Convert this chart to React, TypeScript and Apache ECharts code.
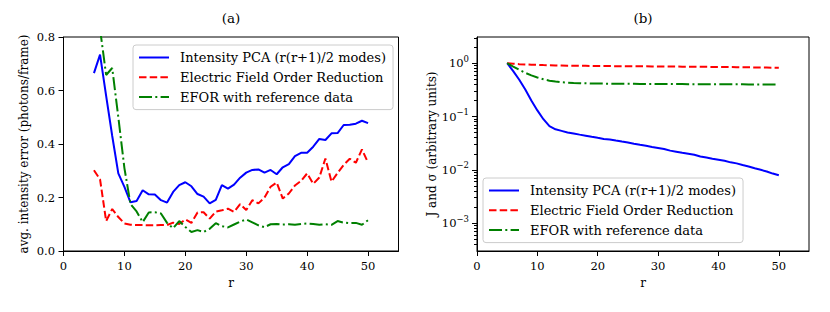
import React, { useEffect, useRef } from 'react';
import * as echarts from 'echarts';

// ---------- data ----------
const rValues = [5, 6, 7, 8, 9, 10, 11, 12, 13, 14, 15, 16, 17, 18, 19, 20, 21, 22, 23, 24, 25, 26, 27, 28, 29, 30, 31, 32, 33, 34, 35, 36, 37, 38, 39, 40, 41, 42, 43, 44, 45, 46, 47, 48, 49, 50];

// (a) avg. intensity error (photons/frame)
const pcaErr = [0.665, 0.734, 0.58, 0.43, 0.29, 0.24, 0.182, 0.187, 0.227, 0.212, 0.211, 0.19, 0.181, 0.221, 0.246, 0.257, 0.242, 0.213, 0.203, 0.178, 0.191, 0.246, 0.233, 0.248, 0.274, 0.293, 0.303, 0.305, 0.293, 0.303, 0.287, 0.313, 0.325, 0.355, 0.367, 0.367, 0.39, 0.419, 0.415, 0.44, 0.441, 0.471, 0.472, 0.476, 0.487, 0.478];
const eforErr = [0.302, 0.268, 0.112, 0.157, 0.127, 0.103, 0.098, 0.097, 0.097, 0.096, 0.096, 0.097, 0.097, 0.106, 0.101, 0.118, 0.105, 0.144, 0.145, 0.121, 0.147, 0.152, 0.158, 0.146, 0.175, 0.153, 0.19, 0.178, 0.2, 0.24, 0.256, 0.196, 0.215, 0.245, 0.262, 0.29, 0.251, 0.275, 0.346, 0.259, 0.292, 0.322, 0.345, 0.33, 0.38, 0.33];
const eforRefR = [6, 7, 8, 9, 10, 11, 12, 13, 14, 15, 16, 17, 18, 19, 20, 21, 22, 23, 24, 25, 26, 27, 28, 29, 30, 31, 32, 33, 34, 35, 36, 37, 38, 39, 40, 41, 42, 43, 44, 45, 46, 47, 48, 49, 50];
const eforRefErr = [0.83, 0.658, 0.684, 0.5, 0.31, 0.175, 0.148, 0.108, 0.144, 0.145, 0.14, 0.105, 0.085, 0.112, 0.09, 0.071, 0.078, 0.071, 0.083, 0.104, 0.093, 0.088, 0.099, 0.11, 0.118, 0.107, 0.096, 0.089, 0.1, 0.101, 0.099, 0.1, 0.098, 0.101, 0.103, 0.101, 0.098, 0.1, 0.098, 0.112, 0.106, 0.104, 0.105, 0.098, 0.115];

// (b) J and sigma (arbitrary units), log scale
const pcaJ = [1.0, 0.71, 0.49, 0.32, 0.2, 0.13, 0.089, 0.066, 0.0575, 0.0537, 0.0501, 0.0479, 0.0457, 0.0437, 0.0417, 0.0398, 0.038, 0.0372, 0.0355, 0.0339, 0.0324, 0.0309, 0.0295, 0.0282, 0.0269, 0.0257, 0.0245, 0.0229, 0.0219, 0.0209, 0.02, 0.0191, 0.0178, 0.017, 0.0162, 0.0155, 0.0148, 0.0138, 0.0132, 0.0123, 0.0115, 0.0107, 0.01, 0.0093, 0.0085, 0.0079];
const eforJ = [1.0, 0.975, 0.96, 0.948, 0.938, 0.93, 0.922, 0.915, 0.91, 0.905, 0.9, 0.897, 0.894, 0.891, 0.888, 0.886, 0.884, 0.882, 0.88, 0.878, 0.876, 0.875, 0.873, 0.872, 0.87, 0.869, 0.867, 0.866, 0.864, 0.862, 0.86, 0.858, 0.856, 0.854, 0.852, 0.85, 0.848, 0.846, 0.843, 0.84, 0.837, 0.834, 0.831, 0.828, 0.825, 0.822];
const eforRefJ = [1.0, 0.86, 0.75, 0.66, 0.59, 0.54, 0.5, 0.47, 0.452, 0.44, 0.432, 0.426, 0.422, 0.419, 0.417, 0.415, 0.414, 0.413, 0.412, 0.411, 0.41, 0.41, 0.409, 0.408, 0.408, 0.407, 0.406, 0.406, 0.405, 0.405, 0.404, 0.404, 0.403, 0.403, 0.402, 0.402, 0.402, 0.401, 0.401, 0.401, 0.4, 0.4, 0.4, 0.4, 0.399, 0.399];

// ticks
const xTicks = [0, 10, 20, 30, 40, 50];
const logMajorTicks = [0.001, 0.01, 0.1, 1];
const logMinorTicks = [
  0.0004, 0.0005, 0.0006, 0.0007, 0.0008, 0.0009,
  0.002, 0.003, 0.004, 0.005, 0.006, 0.007, 0.008, 0.009,
  0.02, 0.03, 0.04, 0.05, 0.06, 0.07, 0.08, 0.09,
  0.2, 0.3, 0.4, 0.5, 0.6, 0.7, 0.8, 0.9,
  2, 3,
];

const seriesNames = [
  'Intensity PCA (r(r+1)/2 modes)',
  'Electric Field Order Reduction',
  'EFOR with reference data',
];
const colors = ['#0000ff', '#ff0000', '#008000'];
const dashes: any[] = ['solid', [7.5, 3.2], [13, 3.3, 2, 3.3]];

const FONT = 'DejaVu Serif';

export default function App() {
  const ref = useRef<HTMLDivElement>(null);

  useEffect(() => {
    if (!ref.current) return;
    const chart = echarts.init(ref.current, null, { renderer: 'svg' });

    const axisLine = { show: true, onZero: false, lineStyle: { color: '#000', width: 1 } };
    const tickStyle = { color: '#000', width: 1 };
    const labelBase = { color: '#000', fontFamily: FONT, fontSize: 11.5 };
    const nameStyle = { color: '#000', fontFamily: FONT, fontSize: 12 };

    const xAxisFor = (gridIndex: number) => ({
      type: 'value',
      gridIndex,
      min: 0,
      max: 55,
      axisLine,
      axisTick: { show: true, length: 5, lineStyle: tickStyle, customValues: xTicks },
      axisLabel: { ...labelBase, margin: 9, customValues: xTicks },
      splitLine: { show: false },
      name: 'r',
      nameLocation: 'middle',
      nameGap: 26,
      nameTextStyle: nameStyle,
    });

    const legendFor = (left: number, top: number) => ({
      data: seriesNames,
      orient: 'vertical',
      left,
      top,
      itemWidth: 30,
      itemHeight: 14,
      itemGap: 6.8,
      padding: [6, 7, 6, 5],
      borderColor: '#cccccc',
      borderWidth: 1,
      borderRadius: 3,
      backgroundColor: 'rgba(255,255,255,0.8)',
      selectedMode: false,
      itemStyle: { opacity: 0, borderWidth: 0 },
      formatter: (n: string) => '{t|' + n + '}',
      textStyle: {
        color: '#000',
        fontFamily: FONT,
        fontSize: 13,
        rich: {
          t: { color: '#000', fontFamily: FONT, fontSize: 13, padding: [0, 0, 0, 6] },
        },
      },
    });

    const mkSeries = (idx: number, xs: number[], ys: number[], axisIdx: number) => ({
      type: 'line',
      name: seriesNames[idx],
      xAxisIndex: axisIdx,
      yAxisIndex: axisIdx,
      data: xs.map((x, i) => [x, ys[i]]),
      symbol: 'none',
      showSymbol: false,
      clip: true,
      lineStyle: { color: colors[idx], width: 2, type: dashes[idx] },
      itemStyle: { color: colors[idx] },
      emphasis: { disabled: true },
    });

    const expLabel = (v: number) => {
      const e = Math.round(Math.log10(v));
      const s = e < 0 ? '\u2212' + String(-e) : String(e);
      return '{b|10}{s|' + s + '}';
    };

    chart.setOption({
      animation: false,
      backgroundColor: '#fff',
      textStyle: { fontFamily: FONT, color: '#000' },
      grid: [
        { left: 63.5, top: 37, width: 335, height: 214, show: true, borderColor: '#000', borderWidth: 1, backgroundColor: 'transparent' },
        { left: 477, top: 37, width: 332, height: 214, show: true, borderColor: '#000', borderWidth: 1, backgroundColor: 'transparent' },
      ],
      graphic: [
        { type: 'text', x: 231, y: 18, style: { text: '(a)', align: 'center', verticalAlign: 'middle', textAlign: 'center', textVerticalAlign: 'middle', fontFamily: FONT, fontSize: 13.5, fill: '#000' } },
        { type: 'text', x: 643, y: 18, style: { text: '(b)', align: 'center', verticalAlign: 'middle', textAlign: 'center', textVerticalAlign: 'middle', fontFamily: FONT, fontSize: 13.5, fill: '#000' } },
      ],
      legend: [legendFor(133, 45), legendFor(483, 178)],
      xAxis: [xAxisFor(0), xAxisFor(1)],
      yAxis: [
        {
          type: 'value',
          gridIndex: 0,
          min: 0,
          max: 0.8,
          interval: 0.2,
          axisLine,
          axisTick: { show: true, length: 5, lineStyle: tickStyle },
          axisLabel: { ...labelBase, margin: 8.5, formatter: (v: number) => v.toFixed(1) },
          splitLine: { show: false },
          name: 'avg. intensity error (photons/frame)',
          nameLocation: 'middle',
          nameGap: 34,
          nameTextStyle: nameStyle,
        },
        {
          type: 'log',
          logBase: 10,
          gridIndex: 1,
          min: 3e-4,
          max: 3.1,
          position: 'left',
          axisLine,
          axisTick: { show: true, length: 5, lineStyle: tickStyle, customValues: logMajorTicks },
          axisLabel: {
            ...labelBase,
            margin: 8,
            customValues: logMajorTicks,
            formatter: expLabel,
            rich: {
              b: { fontFamily: FONT, fontSize: 11.5, color: '#000' },
              s: { fontFamily: FONT, fontSize: 8.5, color: '#000', padding: [0, 0, 9, 0] },
            },
          },
          splitLine: { show: false },
          name: 'J and σ (arbitrary units)',
          nameLocation: 'middle',
          nameGap: 33,
          nameTextStyle: nameStyle,
        },
        {
          type: 'log',
          logBase: 10,
          gridIndex: 1,
          min: 3e-4,
          max: 3.1,
          position: 'left',
          axisLine: { show: false },
          axisTick: { show: true, length: 3, lineStyle: tickStyle, customValues: logMinorTicks },
          axisLabel: { show: false },
          splitLine: { show: false },
        },
      ],
      series: [
        mkSeries(0, rValues, pcaErr, 0),
        mkSeries(1, rValues, eforErr, 0),
        mkSeries(2, eforRefR, eforRefErr, 0),
        mkSeries(0, rValues, pcaJ, 1),
        mkSeries(1, rValues, eforJ, 1),
        mkSeries(2, rValues, eforRefJ, 1),
      ],
    });

    return () => chart.dispose();
  }, []);

  return (
    <div
      ref={ref}
      style={{ position: 'absolute', left: 0, top: 0, width: 830, height: 312, background: '#fff' }}
    />
  );
}
